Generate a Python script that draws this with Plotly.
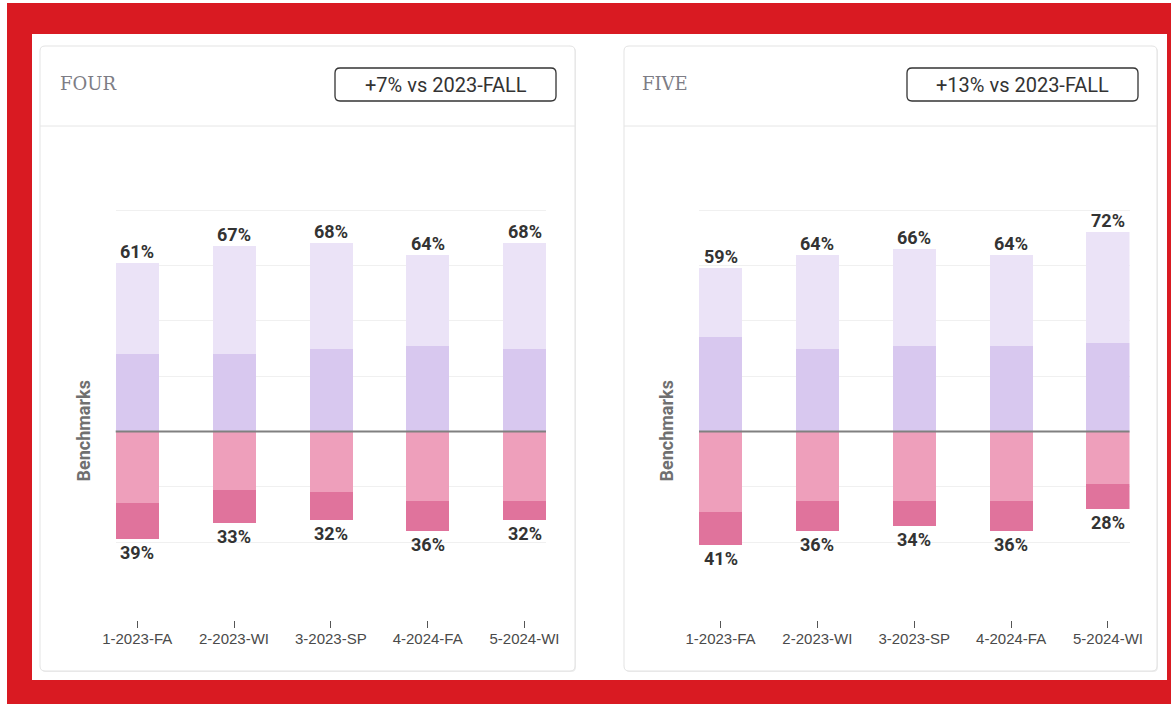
import plotly.graph_objects as go

# ---------------- data ----------------
categories = ["1-2023-FA", "2-2023-WI", "3-2023-SP", "4-2024-FA", "5-2024-WI"]

four_mid = [28, 28, 30, 31, 30]
four_light = [33, 39, 38, 33, 38]
four_pink = [26, 21, 22, 25, 25]
four_dark = [13, 12, 10, 11, 7]

five_mid = [34, 30, 31, 31, 32]
five_light = [25, 34, 35, 33, 40]
five_pink = [29, 25, 25, 25, 19]
five_dark = [12, 11, 9, 11, 9]

panel_titles = ["FOUR", "FIVE"]
badge_texts = ["+7% vs 2023-FALL", "+13% vs 2023-FALL"]
grid_vals = [-40, -20, 0, 20, 40, 60, 80]

# ---------------- geometry helpers ----------------
W, H = 1171, 705


def px(x):
    return x / W


def py(y):
    return 1 - y / H


C_LIGHT = "#ebe3f7"
C_MID = "#d8c8ef"
C_PINK = "#ee9fbb"
C_DARK = "#e0739c"

fig = go.Figure()

panels = [
    dict(mid=four_mid, light=four_light, pink=four_pink, dark=four_dark,
         xa="x", ya="y", card=(40, 575), badge=(335, 556),
         title_x=60, ytitle_x=84),
    dict(mid=five_mid, light=five_light, pink=five_pink, dark=five_dark,
         xa="x2", ya="y2", card=(624, 1157), badge=(907, 1138),
         title_x=642, ytitle_x=667),
]

shapes = []
annotations = []


def rounded_rect(x0, y0, x1, y1, r):
    pts = [
        ("M", x0 + r, y0), ("L", x1 - r, y0), ("Q", x1, y0, x1, y0 + r),
        ("L", x1, y1 - r), ("Q", x1, y1, x1 - r, y1), ("L", x0 + r, y1),
        ("Q", x0, y1, x0, y1 - r), ("L", x0, y0 + r), ("Q", x0, y0, x0 + r, y0),
    ]
    s = ""
    for p in pts:
        if p[0] == "Q":
            s += f"Q{px(p[1]):.5f},{py(p[2]):.5f} {px(p[3]):.5f},{py(p[4]):.5f} "
        else:
            s += f"{p[0]}{px(p[1]):.5f},{py(p[2]):.5f} "
    return s + "Z"


# red frame + white content area
shapes.append(dict(type="rect", xref="paper", yref="paper", x0=px(7), x1=1.0,
                   y0=py(704), y1=py(3), fillcolor="#d91a22", line=dict(width=0), layer="below"))
shapes.append(dict(type="rect", xref="paper", yref="paper", x0=px(32), x1=px(1167),
                   y0=py(680), y1=py(34), fillcolor="white", line=dict(width=0), layer="below"))

LABEL_FONT = dict(family="Roboto", size=18, color="#333333", weight="bold")

for i, p in enumerate(panels):
    cx0, cx1 = p["card"]
    shapes.append(dict(type="path", xref="paper", yref="paper",
                       path=rounded_rect(cx0 + 1, 47, cx1 + 1, 672, 5),
                       fillcolor="#ededed", line=dict(width=0), layer="below"))
    shapes.append(dict(type="path", xref="paper", yref="paper",
                       path=rounded_rect(cx0, 46, cx1, 671, 5),
                       fillcolor="white", line=dict(color="#e3e3e3", width=1), layer="below"))
    shapes.append(dict(type="line", xref="paper", yref="paper", x0=px(cx0), x1=px(cx1),
                       y0=py(126), y1=py(126), line=dict(color="#e6e6e6", width=1), layer="below"))
    bx0, bx1 = p["badge"]
    shapes.append(dict(type="path", xref="paper", yref="paper",
                       path=rounded_rect(bx0, 68, bx1, 101, 5),
                       fillcolor="white", line=dict(color="#333333", width=1.3), layer="below"))
    annotations.append(dict(xref="paper", yref="paper", x=px((bx0 + bx1) / 2), y=py(85),
                            text=badge_texts[i], showarrow=False, xanchor="center", yanchor="middle",
                            font=dict(family="Roboto", size=20, color="#333333")))
    annotations.append(dict(xref="paper", yref="paper", x=px(p["title_x"] - 2), y=py(83),
                            text=panel_titles[i], showarrow=False, xanchor="left", yanchor="middle",
                            font=dict(family="DejaVu Serif", size=18, color="#7d7d85")))

    xa, ya = p["xa"], p["ya"]
    for vals, col in [(p["mid"], C_MID), (p["light"], C_LIGHT)]:
        fig.add_trace(go.Bar(x=categories, y=vals, marker=dict(color=col, line=dict(width=0)),
                             width=0.444, xaxis=xa, yaxis=ya, hoverinfo="skip", showlegend=False))
    for vals, col in [(p["pink"], C_PINK), (p["dark"], C_DARK)]:
        fig.add_trace(go.Bar(x=categories, y=[-v for v in vals], marker=dict(color=col, line=dict(width=0)),
                             width=0.444, xaxis=xa, yaxis=ya, hoverinfo="skip", showlegend=False))

    shapes.append(dict(type="line", xref=f"{xa} domain", yref=ya, x0=0, x1=1, y0=0, y1=0,
                       line=dict(color="#808080", width=2), layer="above"))

    for j, c in enumerate(categories):
        pos = p["mid"][j] + p["light"][j]
        neg = p["pink"][j] + p["dark"][j]
        annotations.append(dict(xref=xa, yref=ya, x=c, y=pos, text=f"{pos}%", showarrow=False,
                                xanchor="center", yanchor="bottom", yshift=-1, font=LABEL_FONT))
        annotations.append(dict(xref=xa, yref=ya, x=c, y=-neg, text=f"{neg}%", showarrow=False,
                                xanchor="center", yanchor="top", yshift=-1, font=LABEL_FONT))

    annotations.append(dict(xref="paper", yref=ya, x=px(p["ytitle_x"] - 1), y=0, text="Benchmarks",
                            showarrow=False, textangle=-90, xanchor="center", yanchor="middle",
                            font=dict(family="Roboto", size=18, color="#707070", weight="bold")))

y_top, y_bot = 205.0, 620.0
zero_px, per = 431.5, 2.765
yrange = [-(y_bot - zero_px) / per, (zero_px - y_top) / per]

axis_common_x = dict(type="category", range=[-0.222, 4.222], showgrid=False, zeroline=False,
                     showline=False, ticks="outside", ticklen=7, tickwidth=1, tickcolor="#555555",
                     tickfont=dict(family="Liberation Sans", size=15, color="#4a4a4a"),
                     ticklabelstandoff=-2, fixedrange=True, automargin=False)
axis_common_y = dict(range=yrange, tickvals=grid_vals, showticklabels=False, showgrid=True,
                     gridcolor="#f0f0f0", gridwidth=1, zeroline=False, showline=False, ticks="",
                     domain=[py(y_bot), py(y_top)], fixedrange=True, automargin=False)

fig.update_layout(
    template="none",
    width=W, height=H,
    autosize=False,
    margin=dict(l=0, r=0, t=0, b=0, pad=0, autoexpand=False),
    paper_bgcolor="white",
    plot_bgcolor="rgba(0,0,0,0)",
    barmode="relative",
    bargap=0,
    showlegend=False,
    xaxis=dict(domain=[px(115.7), px(546.0)], anchor="y", **axis_common_x),
    yaxis=dict(anchor="x", **axis_common_y),
    xaxis2=dict(domain=[px(699.0), px(1129.5)], anchor="y2", **axis_common_x),
    yaxis2=dict(anchor="x2", **axis_common_y),
    shapes=shapes,
    annotations=annotations,
)

post = (
    "var gd=document.getElementById('{plot_id}');"
    "document.documentElement.style.margin='0';document.documentElement.style.padding='0';"
    "document.body.style.margin='0';document.body.style.padding='0';"
    "document.body.style.overflow='hidden';"
    "gd.style.position='absolute';gd.style.left='0px';gd.style.top='0px';"
)

fig.write_html("out.html", config={"displayModeBar": False, "responsive": False}, post_script=post)
